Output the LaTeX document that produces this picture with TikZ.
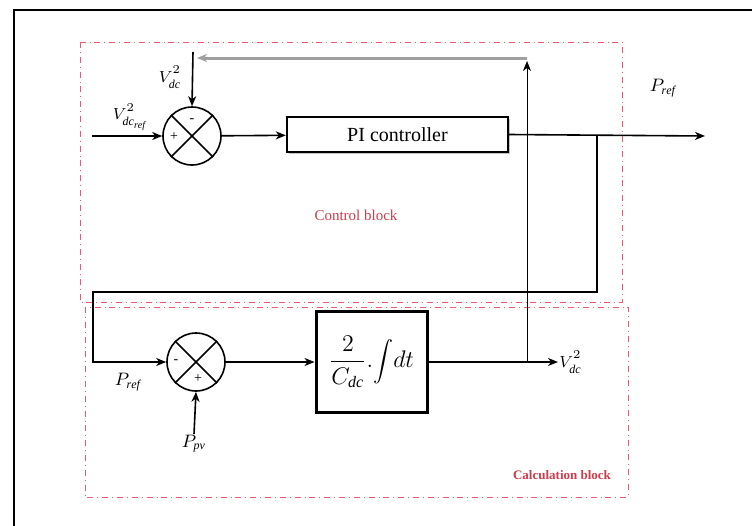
\documentclass[tikz,border=0pt]{standalone}
\usepackage{fontspec}
\setmainfont{Liberation Serif}
\usetikzlibrary{arrows.meta, positioning, calc, shadows}
\definecolor{blockred}{RGB}{235,90,110}
\definecolor{labelred}{RGB}{205,60,75}
\newcommand{\sqsup}{^{\raisebox{1.5pt}{$\scriptstyle 2$}}}

\begin{document}
\begin{tikzpicture}[
    x=0.5pt, y=-0.5pt,
    >={Stealth[length=5pt, width=4pt, inset=1.5pt]},
    font=\footnotesize,
    sumnode/.style={circle, draw, thick, minimum size=29pt, inner sep=0pt},
    block/.style={rectangle, draw, align=center, fill=white},
    region/.style={draw=blockred, dash dot, line width=0.5pt},
    regionlabel/.style={text=labelred, font=\fontsize{7.5}{9}\selectfont},
    varlabel/.style={inner sep=0.5pt},
    sig/.style={->, thick},
    feedback/.style={draw=gray!75, line width=1.5pt},
    sign/.style={font=\scriptsize, inner sep=0pt}
]

\useasboundingbox (0,0) rectangle (752,526);

% Frame
\draw[line width=1pt] (14,10) rectangle (780,540);

% Regions
\draw[region] (80,42) rectangle (622,302);
\draw[region] (85,307) rectangle (628,497);
\node[regionlabel] (ctrllabel) at (356,215) {Control block};
\node[regionlabel, font=\fontsize{6.5}{8}\selectfont\bfseries] (calclabel) at (562,475) {Calculation block};

% Control block
\node[sumnode] (sumA) at (192,136) {};
\draw[thick] (sumA.north east) -- (sumA.south west) (sumA.north west) -- (sumA.south east);
\node[sign] at ($(sumA.center)+(0,-15)$) {-};
\node[sign] at ($(sumA.center)+(-18,1)$) {+};
\node[block, very thick, minimum width=110.5pt, minimum height=17.5pt, font=\normalsize,
      drop shadow={shadow xshift=0.8pt, shadow yshift=-0.8pt, fill=black!45}] (pi) at (397.5,134.5) {PI controller};

\coordinate (inA) at (92,136);
\coordinate (prefout) at (705,136);
\coordinate (br1) at (597,136);
\coordinate (corner) at (93,292);

\node[varlabel] (vdcref) at (130,117) {$V\sqsup_{\mathit{dc}_{\mathit{ref}}}$};
\node[varlabel] (vdcfb) at (170,77) {$V\sqsup_{\mathit{dc}}$};
\node[varlabel, font=\small] (preftop) at (663,88) {$P_{\mathit{ref}}$};

\draw[sig] (inA) -- (sumA.west);
\draw[sig] (sumA) -- (pi);
\draw[sig] (pi.east) -- (prefout);

% Calculation block
\node[sumnode] (sumB) at (196,362) {};
\draw[thick] (sumB.north east) -- (sumB.south west) (sumB.north west) -- (sumB.south east);
\node[sign] at ($(sumB.center)+(-20,0)$) {-};
\node[sign] at ($(sumB.center)+(2,17)$) {+};
\node[block, line width=1.5pt, minimum width=55.5pt, minimum height=50.5pt, font=\large] (integ) at (371.5,362)
    {$\displaystyle\frac{2}{C_{\mathit{dc}}}.\!\int\! dt$};

\node[varlabel, font=\small] (prefbot) at (128,382) {$P_{\mathit{ref}}$};
\node[varlabel, font=\small] (ppv) at (194,444) {$P_{\mathit{pv}}$};
\node[varlabel, anchor=west] (vdcout) at (558,362) {$V\sqsup_{\mathit{dc}}$};

\draw[sig] (br1) |- (corner) |- (sumB.west);
\draw[sig] (ppv.north) -- (sumB.south);
\draw[sig] (sumB) -- (integ);
\draw[sig] (integ.east) -- (vdcout.west);

% Feedback
\coordinate (fb) at (527,362);
\coordinate (fbtop) at (527,61);
\coordinate (fbup) at (527,58);
\coordinate (fbend) at (197,58);
\coordinate (fbdown) at (193,52);
\draw[->] (fb) -- (fbtop);
\draw[feedback, ->] (fbup) -- (fbend);
\draw[sig] (fbdown) -- (sumA.north);

\end{tikzpicture}
\end{document}
